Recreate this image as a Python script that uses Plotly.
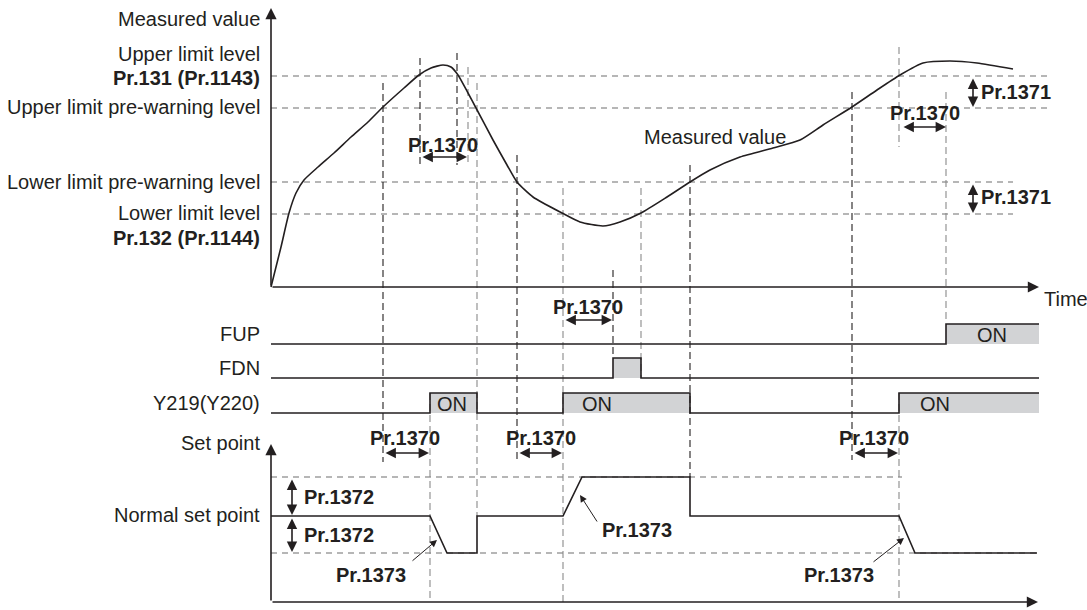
import plotly.graph_objects as go

# ---------------- data ----------------
# measured value curve (time units, value units; origin at the axes corner)
curve_t = [0, 10, 18, 25, 33, 47, 63, 80, 97, 112, 133, 148, 160, 172, 180, 187, 197, 205, 222, 236,
           246, 262, 291, 309, 332, 349, 370, 396, 419, 439, 469, 502, 529, 552, 581, 606, 629,
           652, 679, 706, 742]
curve_v = [0, 40, 74, 94, 107, 120, 134, 150, 165, 180, 199, 212, 219, 222, 220, 212, 194, 179, 147, 122,
           105, 90, 74, 65, 61, 65, 74, 90, 105, 117, 130, 139, 147, 162, 180, 197, 212,
           224, 226, 224, 218]

# threshold levels (measured value units)
upper_limit = 211
upper_pre = 179
lower_pre = 105
lower_limit = 73

# set point trace
sp_t = [0, 159, 176, 206, 206, 292, 311, 419, 419, 628, 644, 766]
sp_v = [86, 86, 49, 49, 86, 86, 125, 125, 86, 86, 49, 49]
sp_normal, sp_high, sp_low = 86, 125, 49

# digital signals: ON intervals (time units)
signal_names = ["FUP", "FDN", "Y219(Y220)"]
fup_on = [(675, 768)]
fdn_on = [(342, 370)]
y219_on = [(159, 206), (292, 419), (628, 768)]
signal_end = 768

# event times (time units)
ev = {
    "a": 112, "b": 149, "c": 186, "d": 197, "e": 206, "f": 159, "g": 246, "h": 292,
    "i": 342, "j": 370, "k": 419, "l": 581, "m": 628, "n": 675,
}

# ---------------- layout helpers ----------------
OX = 271          # pixel x of time origin
INK = "#231f20"
GRAY = "#8a8a8a"
FONT = "Liberation Sans, Arial, sans-serif"
FS = 20

fig = go.Figure()

# measured curve
fig.add_trace(go.Scatter(x=curve_t, y=curve_v, mode="lines", yaxis="y",
                         line=dict(color=INK, width=1.6, shape="spline", smoothing=0.6),
                         hoverinfo="skip", showlegend=False))
# set point
fig.add_trace(go.Scatter(x=sp_t, y=sp_v, mode="lines", yaxis="y2",
                         line=dict(color=INK, width=1.6), hoverinfo="skip", showlegend=False))

shapes = []
annotations = []

def px(xpix):
    return xpix - OX

# signals
rows = [344, 378, 413]
HIGH = 20
for name, ons, base in zip(signal_names, [fup_on, fdn_on, y219_on], rows):
    xs, ys = [0], [base]
    for a, b in ons:
        xs += [a, a, b]
        ys += [base, base - HIGH, base - HIGH]
        if b < signal_end:
            xs.append(b); ys.append(base)
        shapes.append(dict(type="rect", xref="x", yref="y3", x0=a, x1=b, y0=base, y1=base - HIGH,
                           fillcolor="#d2d3d5", line=dict(width=0), layer="below"))
    if xs[-1] < signal_end:
        xs.append(signal_end); ys.append(base)
    fig.add_trace(go.Scatter(x=xs, y=ys, mode="lines", yaxis="y3",
                             line=dict(color=INK, width=1.6), hoverinfo="skip", showlegend=False))
    annotations.append(dict(x=px(262), y=base - 10, xref="x", yref="y3", text=name, showarrow=False,
                            xanchor="right", yanchor="middle", font=dict(size=FS, color=INK, family=FONT)))

# ON labels (pixel offset from rising edge)
for a, off, base in [(fup_on[0][0], 46, rows[0]), (y219_on[0][0], 22, rows[2]),
                     (y219_on[1][0], 34, rows[2]), (y219_on[2][0], 36, rows[2])]:
    annotations.append(dict(x=a + off, y=base - 9, xref="x", yref="y3", text="ON", showarrow=False,
                            font=dict(size=FS, color=INK, family=FONT)))

# horizontal dashed level lines
for lvl, xe in [(upper_limit, 1052), (upper_pre, 1052), (lower_pre, 1013), (lower_limit, 1013)]:
    shapes.append(dict(type="line", xref="x", yref="y", x0=0, x1=px(xe), y0=lvl, y1=lvl,
                       line=dict(color="#6e6e6e", width=1.2, dash="6px,5px"), layer="below"))
for lvl, xe in [(sp_high, 902), (sp_low, 1037)]:
    shapes.append(dict(type="line", xref="x", yref="y2", x0=0, x1=px(xe), y0=lvl, y1=lvl,
                       line=dict(color="#6e6e6e", width=1.2, dash="6px,5px"), layer="below"))

# vertical dashed guide lines (time, top pixel, bottom pixel, color)
guides = [
    (ev["a"], 83, 462, INK), (ev["b"], 58, 167, INK), (ev["c"], 53, 165, INK), (ev["d"], 67, 165, GRAY),
    (ev["e"], 83, 516, GRAY), (ev["f"], 393, 602, GRAY), (ev["g"], 155, 460, INK), (ev["h"], 188, 602, GRAY),
    (ev["i"], 270, 358, INK), (ev["j"], 188, 378, GRAY), (ev["k"], 165, 477, INK), (ev["l"], 92, 460, INK),
    (ev["m"], 47, 147, GRAY), (ev["m"], 393, 602, GRAY), (ev["n"], 92, 323, GRAY),
]
for t, y0, y1, c in guides:
    shapes.append(dict(type="line", xref="x", yref="y3", x0=t, x1=t, y0=y0, y1=y1,
                       line=dict(color=c, width=1.1, dash="7px,4px"), layer="below"))

def arrow(x0, y0, x1, y1, both=False, width=1.6, size=1.4, head=2):
    annotations.append(dict(x=px(x1), y=y1, ax=px(x0), ay=y0, xref="x", yref="y3", axref="x", ayref="y3",
                            text="", showarrow=True, arrowhead=head, arrowsize=size, arrowwidth=width,
                            arrowcolor=INK, arrowside="end+start" if both else "end", standoff=0,
                            startstandoff=0))

# axes arrows
arrow(271, 287, 271, 8)
arrow(271, 287, 1039, 287)
arrow(271, 602, 271, 444)
arrow(271, 602, 1038, 602)

# Pr.1370 double arrows
for x0, x1, y in [(421, 467, 157), (902, 946, 127), (564, 612, 320), (384, 429, 453), (518, 562, 453), (853, 898, 453)]:
    arrow(x0, y, x1, y, both=True, width=1.6, size=1.3)
# Pr.1371
arrow(973, 77, 973, 107, both=True, width=1.6, size=1.3)
arrow(973, 183, 973, 213, both=True, width=1.6, size=1.3)
# Pr.1372
arrow(292, 478, 292, 515, both=True, width=1.6, size=1.3)
arrow(292, 517, 292, 552, both=True, width=1.6, size=1.3)
# Pr.1373 leaders
arrow(411, 562, 437, 540, width=1.0, size=1.4, head=2)
arrow(598, 523, 580, 495, width=1.0, size=1.4, head=2)
arrow(872, 563, 904, 538, width=1.0, size=1.4, head=2)

def text(xp, yp, s, anchor="center", bold=False):
    annotations.append(dict(x=px(xp), y=yp, xref="x", yref="y3", text=f"<b>{s}</b>" if bold else s,
                            showarrow=False, xanchor=anchor, yanchor="middle",
                            font=dict(size=FS, color=INK, family=FONT)))

# left labels
text(262, 19, "Measured value", "right")
text(262, 54, "Upper limit level", "right")
text(262, 78, "Pr.131 (Pr.1143)", "right", True)
text(262, 107, "Upper limit pre-warning level", "right")
text(262, 182, "Lower limit pre-warning level", "right")
text(262, 213, "Lower limit level", "right")
text(262, 238, "Pr.132 (Pr.1144)", "right", True)
text(262, 443, "Set point", "right")
text(262, 515, "Normal set point", "right")
text(1042, 299, "Time", "left")
text(715, 137, "Measured value")

# parameter labels
text(443, 145, "Pr.1370", bold=True)
text(925, 113, "Pr.1370", bold=True)
text(588, 307, "Pr.1370", bold=True)
text(405, 438, "Pr.1370", bold=True)
text(541, 438, "Pr.1370", bold=True)
text(874, 438, "Pr.1370", bold=True)
text(979, 92, "Pr.1371", "left", True)
text(979, 197, "Pr.1371", "left", True)
text(302, 497, "Pr.1372", "left", True)
text(302, 535, "Pr.1372", "left", True)
text(371, 575, "Pr.1373", bold=True)
text(637, 530, "Pr.1373", bold=True)
text(839, 575, "Pr.1373", bold=True)

ax_common = dict(visible=False, fixedrange=True)
fig.update_layout(
    width=1087, height=610, autosize=False,
    margin=dict(l=0, r=0, t=0, b=0),
    paper_bgcolor="white", plot_bgcolor="white",
    xaxis=dict(range=[-OX, 1087 - OX], domain=[0, 1], **ax_common),
    yaxis=dict(range=[-(610 - 287), 287], domain=[0, 1], **ax_common),
    yaxis2=dict(range=[-(610 - 602), 602], overlaying="y", **ax_common),
    yaxis3=dict(range=[610, 0], overlaying="y", **ax_common),
    shapes=shapes, annotations=annotations, showlegend=False,
)
fig.write_html("out.html", config={"displayModeBar": False, "staticPlot": True},
               post_script="document.body.style.margin='0px';document.body.style.overflow='hidden';")
